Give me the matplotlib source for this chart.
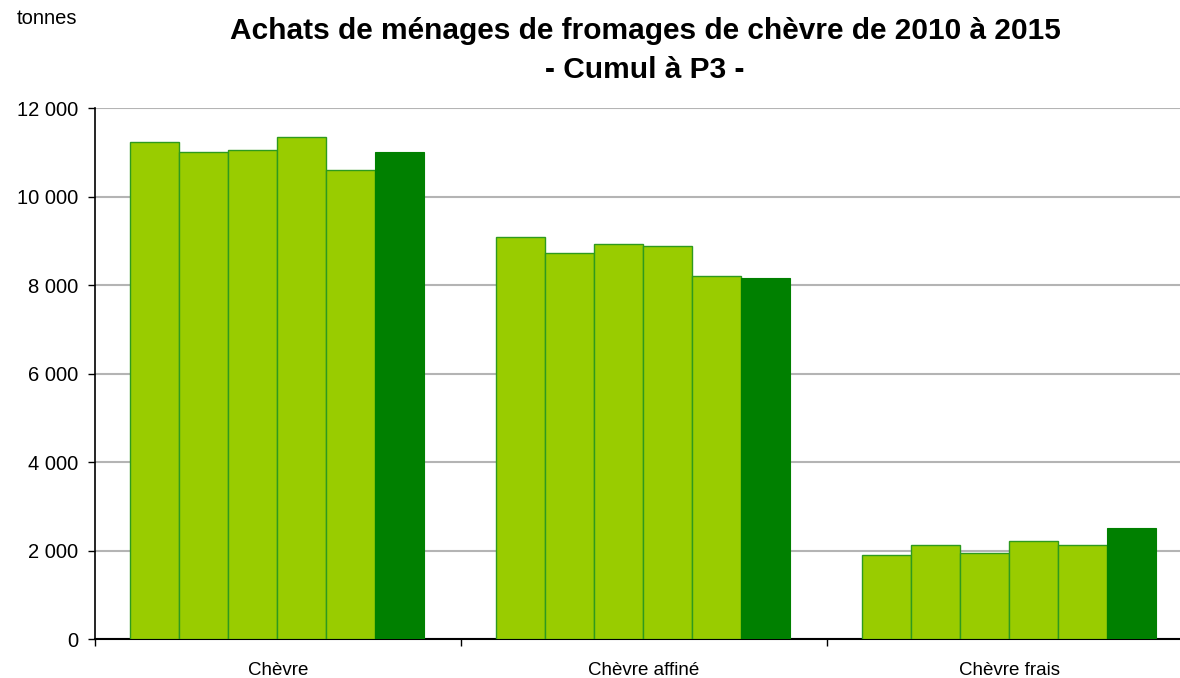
import numpy as np
import matplotlib
matplotlib.use("Agg")
import matplotlib.pyplot as plt
from matplotlib.ticker import FuncFormatter

plt.rcParams['font.family'] = ['Liberation Sans', 'DejaVu Sans']

# --- data (tonnes, cumul à P3) ---
categories = ['Chèvre', 'Chèvre affiné', 'Chèvre frais']
years = ['2010', '2011', '2012', '2013', '2014', '2015']
chevre = [11240, 11020, 11060, 11350, 10600, 11020]
chevre_affine = [9100, 8720, 8930, 8880, 8210, 8160]
chevre_frais = [1900, 2120, 1950, 2230, 2120, 2510]
values = np.array([chevre, chevre_affine, chevre_frais])

light = '#99cc00'
dark = '#008000'

fig = plt.figure(figsize=(11.8, 6.78), dpi=100)
ax = fig.add_axes([95 / 1180, 1 - 639.3 / 678, 1098 / 1180, 531 / 678])

bw = 49 / 366
n = len(years)
x = np.arange(len(categories)) + 0.5
for i in range(n):
    pos = x + (i - (n - 1) / 2) * bw - 1 / 366
    if i == n - 1:
        ax.bar(pos, values[:, i], width=bw, color=dark, edgecolor=dark,
               linewidth=0.8, zorder=3)
    else:
        ax.bar(pos, values[:, i], width=bw, color=light, edgecolor='#2e9a1e',
               linewidth=1.0, zorder=3)

ax.set_xlim(0, 3)
ax.set_ylim(0, 12000)
ax.set_yticks(np.arange(0, 12001, 2000))
ax.yaxis.set_major_formatter(FuncFormatter(lambda v, p: f"{int(v):,}".replace(',', ' ')))
ax.set_xticks([0, 1, 2, 3])
ax.set_xticklabels([])
ax.set_xticks(x, minor=True)
ax.set_xticklabels(categories, minor=True)
ax.tick_params(axis='x', which='minor', length=0, pad=16, labelsize=13.5)
ax.tick_params(axis='x', which='major', length=5, direction='out', width=1)
ax.tick_params(axis='y', length=5, direction='out', width=1, labelsize=14.5, pad=7)

ax.yaxis.grid(True, color='#b4b4b4', linewidth=1.5, zorder=0)
ax.set_axisbelow(True)
for s in ['top', 'right']:
    ax.spines[s].set_visible(False)
ax.spines['left'].set_linewidth(1.2)
ax.spines['bottom'].set_linewidth(1.5)

fig.text(645 / 1180, 1 - 31 / 678, 'Achats de ménages de fromages de chèvre de 2010 à 2015',
         ha='center', va='center', fontsize=21.5, fontweight='bold')
fig.text(645 / 1180, 1 - 70 / 678, '- Cumul à P3 -',
         ha='center', va='center', fontsize=21.5, fontweight='bold')
fig.text(17 / 1180, 1 - 19 / 678, 'tonnes', ha='left', va='center', fontsize=14.5)

fig.savefig('out.png', dpi=100)
